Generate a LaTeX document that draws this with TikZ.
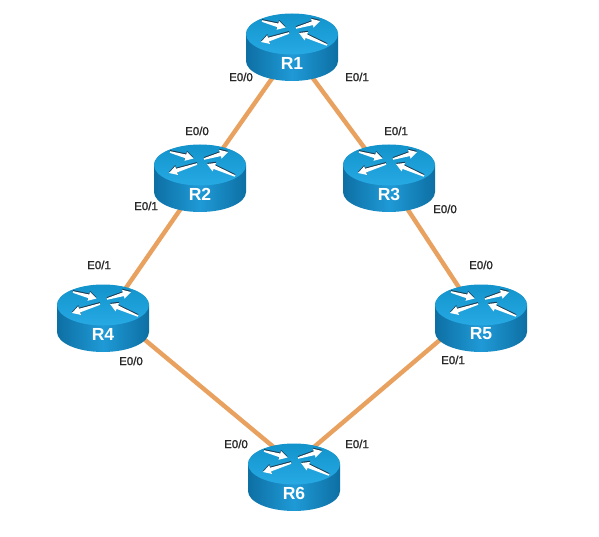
\documentclass[tikz,border=0pt]{standalone}
\usepackage{fontspec}
\setmainfont{Liberation Sans}
\newfontfamily\iflfont[FakeBold=1.5]{Liberation Sans}
\usetikzlibrary{backgrounds}
\definecolor{linkc}{HTML}{E9A15F}
\definecolor{topc}{HTML}{14A3E2}
\definecolor{bodyd}{HTML}{0D6FA3}
\definecolor{bodym}{HTML}{1F9AD6}
\definecolor{arrowd}{HTML}{1B3A50}
\tikzset{
  link/.style={draw=linkc,line width=4.4pt},
  ifl/.style={font=\iflfont\fontsize{11.5}{12}\selectfont,text=black!85,inner sep=0pt},
  routerbox/.style={minimum width=92pt,minimum height=66pt,inner sep=0pt},
  routerlab/.style={font=\bfseries\fontsize{17.5}{18}\selectfont,text=white,inner sep=0pt}
}
% arrow from tail (x1,y1) to head (x2,y2), y pointing down
\newcommand{\rarr}[4]{%
  \pgfmathsetmacro{\rang}{atan2(-(#4-#2),#3-#1)}%
  \pgfmathsetmacro{\rlen}{veclen(#3-#1,#4-#2)}%
  \pgfmathsetmacro{\rneck}{\rlen-8}%
  \begin{scope}[shift={(#1,#2-1.1)},rotate=\rang]
    \fill[arrowd] (0,-.8) -- (\rneck,-1.8) -- (\rneck,-4.6) -- (\rlen,0) -- (\rneck,4.6) -- (\rneck,1.8) -- (0,.8) -- cycle;
  \end{scope}
  \begin{scope}[shift={(#1,#2)},rotate=\rang]
    \fill[white] (0,-.8) -- (\rneck,-1.9) -- (\rneck,-4.6) -- (\rlen,0) -- (\rneck,4.6) -- (\rneck,1.9) -- (0,.8) -- cycle;
  \end{scope}}
\newcommand{\router}[4]{%
  \begin{scope}[shift={(#2,#3)}]
    \path[left color=bodyd,right color=bodyd,middle color=bodym]
      (-46,0) -- (-46,27) arc[start angle=180,end angle=360,x radius=46,y radius=-20] -- (46,0)
      arc[start angle=0,end angle=180,x radius=46,y radius=-20] -- cycle;
    \path[top color=topc!90!black,bottom color=topc!92!white] (0,0) ellipse[x radius=46,y radius=20.5];
    \rarr{-30}{-13}{-6.5}{-6.5}
    \rarr{4}{-6}{28}{-13}
    \rarr{-3}{-1}{-31}{8}
    \rarr{35}{11}{7}{-1}
    \node[routerbox] (#1) at (0,16) {};
    \node[routerlab] (#1t) at (0,29) {#4};
  \end{scope}}
\begin{document}
\begin{tikzpicture}[x=1pt,y=-1pt]
\useasboundingbox (0,0) rectangle (599,537);
\router{R1}{292}{34}{R1}
\router{R2}{200}{165}{R2}
\router{R3}{389}{165}{R3}
\router{R4}{103}{305}{R4}
\router{R5}{481}{305}{R5}
\router{R6}{294}{464}{R6}
\begin{scope}[on background layer]
\fill[white] (0,0) rectangle (599,537);
\draw[link] (R1.center) -- (R2.center);
\draw[link] (R1.center) -- (R3.center);
\draw[link] (R2.center) -- (R4.center);
\draw[link] (R3.center) -- (R5.center);
\draw[link] ([yshift=16pt]R4.center) -- ([yshift=16pt]R6.center);
\draw[link] ([yshift=16pt]R5.center) -- ([yshift=16pt]R6.center);
\end{scope}
\node[ifl] (a1) at (241,77) {E0/0};
\node[ifl] (a2) at (357,77) {E0/1};
\node[ifl] (a3) at (197,131) {E0/0};
\node[ifl] (a4) at (396,131) {E0/1};
\node[ifl] (a5) at (146,206) {E0/1};
\node[ifl] (a6) at (445,209) {E0/0};
\node[ifl] (a7) at (99,265) {E0/1};
\node[ifl] (a8) at (481,265) {E0/0};
\node[ifl] (a9) at (131,361) {E0/0};
\node[ifl] (a10) at (453,360) {E0/1};
\node[ifl] (a11) at (236,444) {E0/0};
\node[ifl] (a12) at (357,444) {E0/1};
\end{tikzpicture}
\end{document}
